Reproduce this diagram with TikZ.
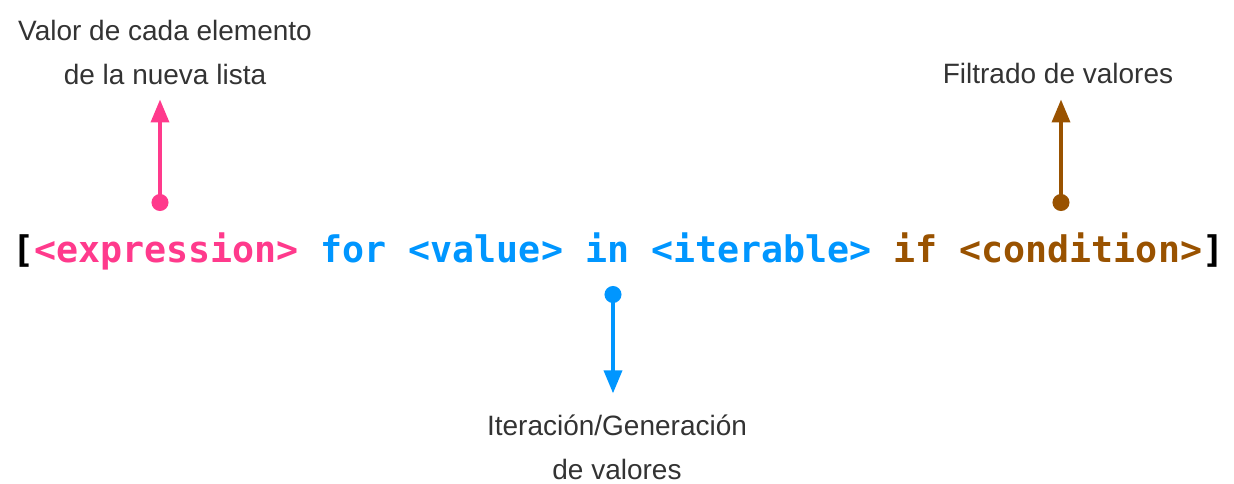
\documentclass[tikz,border=0pt]{standalone}
\usepackage{fontspec}
\setmainfont{Liberation Sans}
\setmonofont{DejaVu Sans Mono}
\usetikzlibrary{arrows.meta}
\definecolor{exprpink}{HTML}{FF3A8C}
\definecolor{iterblue}{HTML}{0096FF}
\definecolor{condbrown}{HTML}{995200}

\begin{document}
\begin{tikzpicture}[x=1pt, y=-1pt,
    note/.style = {align=center, inner sep=0pt, text=black!80, font=\fontsize{28}{44}\selectfont},
    pointer/.style = {line width=3.6pt, {Circle[length=17pt]}-{Triangle[width=18pt,length=23pt]}}]
            \useasboundingbox (0,0) rectangle (1234,484);

            % Nodes
            \node[anchor=base west, inner sep=0pt, font=\ttfamily\bfseries\fontsize{36.6}{40}\selectfont] (code) at (12,262)
                {[{\color{exprpink}<expression>} {\color{iterblue}for <value> in <iterable>} {\color{condbrown}if <condition>}]};
            \node[note] (exprlabel) at (165,52) {Valor de cada elemento\\de la nueva lista};
            \node[note] (condlabel) at (1058,73) {Filtrado de valores};
            \node[note] (iterlabel) at (617,447) {Iteración/Generación\\de valores};

            % Dots
            \coordinate (exprdot) at (160,211);
            \coordinate (conddot) at (1061,211);
            \coordinate (iterdot) at (613,286);

            % Lines
            \draw[pointer, exprpink, shorten >=15pt] (exprdot) -- (exprlabel.south -| exprdot);
            \draw[pointer, condbrown, shorten >=16pt] (conddot) -- (condlabel.south -| conddot);
            \draw[pointer, iterblue, shorten >=21pt] (iterdot) -- (iterlabel.north -| iterdot);
        \end{tikzpicture}
\end{document}
